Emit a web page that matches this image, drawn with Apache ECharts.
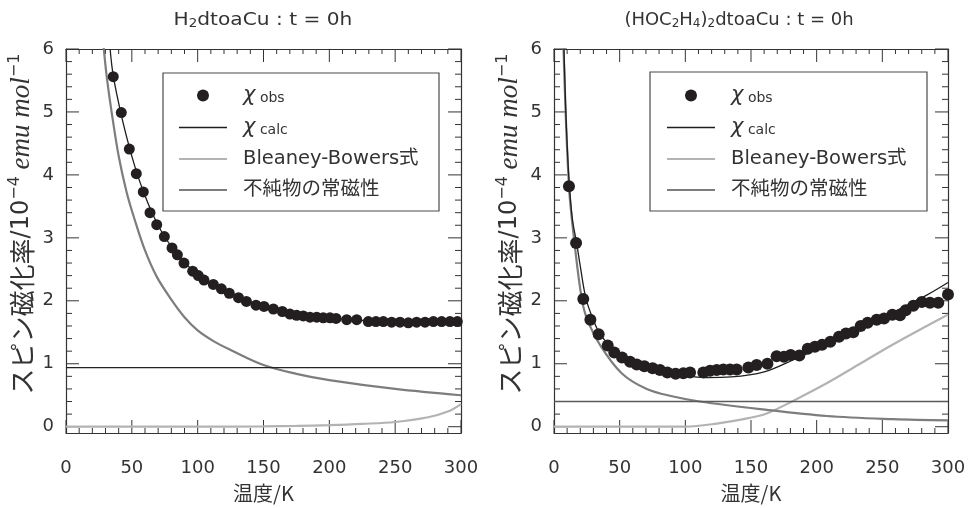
<!DOCTYPE html>
<html>
<head>
<meta charset="utf-8">
<script src="https://cdn.jsdelivr.net/npm/echarts@6/dist/echarts.min.js"></script>
<style>
  html, body { margin: 0; padding: 0; background: #fff; }
  #chart { width: 970px; height: 508px; }
</style>
</head>
<body>
<div id="chart"></div>
<script>
// ---- H2dtoaCu (left panel) ----
const obsT_A = [35.9,42.0,48.1,53.4,58.7,63.8,68.9,74.7,80.5,84.6,89.6,96.2,100.5,104.8,111.9,118,124,131,137,144.3,150.4,157.5,164.3,170.1,175.2,180.2,185.3,190.4,195.4,200.5,205.1,213.2,220.8,229.6,235.4,241.0,247.3,253.7,260.0,266.3,272.7,279.0,285.3,291.6,297.2];
const obsV_A = [5.56,4.99,4.41,4.02,3.73,3.40,3.21,3.02,2.84,2.73,2.60,2.47,2.40,2.33,2.26,2.19,2.12,2.05,1.99,1.93,1.91,1.87,1.83,1.79,1.77,1.76,1.74,1.74,1.73,1.73,1.72,1.70,1.70,1.67,1.67,1.67,1.66,1.66,1.65,1.66,1.66,1.67,1.67,1.67,1.67];
const calcT_A = [33.5,36,42,48,54,60,66,72,80,90,100,112,125,140,160,180,200,225,250,275,300];
const calcV_A = [6.0,5.56,4.95,4.45,4.02,3.67,3.37,3.12,2.86,2.61,2.42,2.25,2.11,1.98,1.86,1.78,1.73,1.69,1.67,1.67,1.68];
const bbT_A = [0,100,150,175,200,225,250,275,290,300];
const bbV_A = [0,0,0.005,0.012,0.025,0.045,0.075,0.15,0.24,0.36];
const impT_A = [28.5,31,35,40,46,52,60,69,80,90,100,112,125,150,175,200,250,300];
const impV_A = [6.05,5.55,4.95,4.3,3.73,3.30,2.80,2.38,2.02,1.74,1.53,1.36,1.22,0.98,0.84,0.74,0.60,0.50];
const constV_A = 0.94;

// ---- (HOC2H4)2dtoaCu (right panel) ----
const obsT_B = [11.4,16.8,22.3,27.7,34.0,40.9,45.9,51.8,57.9,63.0,68.8,75.1,80.7,86.3,92.6,98.5,103.6,113.7,118.8,123.9,128.9,134.0,139.1,148.0,154.3,162.5,169.5,175.1,180.2,186.8,193.2,198.7,204.1,210.4,217.0,222.3,227.9,233.5,238.8,245.7,251.3,257.6,263.5,267.8,273.6,280.0,286.3,292.6,300.0];
const obsV_B = [3.82,2.92,2.03,1.70,1.47,1.29,1.18,1.10,1.03,0.99,0.96,0.93,0.90,0.86,0.84,0.85,0.86,0.86,0.89,0.90,0.91,0.91,0.91,0.94,0.98,1.00,1.12,1.11,1.14,1.13,1.24,1.27,1.30,1.35,1.43,1.48,1.50,1.60,1.65,1.70,1.72,1.78,1.77,1.85,1.92,1.98,1.97,1.97,2.10];
const calcT_B = [7.6,9,10,11.5,14,17.2,20,24.4,29.9,35,42.6,51.5,66.8,83.3,100,116,135,160,182,207.6,233,258.4,283.8,300];
const calcV_B = [6.0,5.0,4.5,3.9,3.3,2.92,2.55,2.03,1.70,1.47,1.29,1.14,0.99,0.88,0.81,0.78,0.79,0.87,1.06,1.31,1.57,1.82,2.09,2.29];
const bbT_B = [0,100,124,149,162,182,207.6,233,258.4,283.8,300];
const bbV_B = [0,0,0.05,0.14,0.21,0.41,0.69,1.00,1.31,1.60,1.78];
const impT_B = [7.2,11.4,16,21,25,35,51.5,70.6,90.8,111,157,207.6,258,300];
const impV_B = [6.05,3.82,2.85,2.05,1.72,1.30,0.85,0.60,0.48,0.40,0.28,0.17,0.12,0.10];
const constV_B = 0.40;

// axis ranges and tick positions
const xMin = 0, xMax = 300, xStep = 50;
const yMin = -0.1, yMax = 6;
const xMajor = [0, 50, 100, 150, 200, 250, 300];
const xMinor = [10,20,30,40,60,70,80,90,110,120,130,140,160,170,180,190,210,220,230,240,260,270,280,290];
const yMajor = [0, 1, 2, 3, 4, 5, 6];
const yMinor = [0.2,0.4,0.6,0.8,1.2,1.4,1.6,1.8,2.2,2.4,2.6,2.8,3.2,3.4,3.6,3.8,4.2,4.4,4.6,4.8,5.2,5.4,5.6,5.8];

const titles = ['H{s|2}dtoaCu : t = 0h', '(HOC{s|2}H{s|4}){s|2}dtoaCu : t = 0h'];
const legendNames = ['χobs', 'χcalc', 'Bleaney-Bowers式', '不純物の常磁性'];
const xName = '温度/K';
const yName = '{sp|}{t|スピン磁化率}{n|/10}{sup|−4}{it| emu mol}{sup|−1}';

const FONT = '"DejaVu Sans", "Noto Sans CJK JP", sans-serif';
const JFONT = '"Noto Sans CJK JP", sans-serif';
const INK = '#333';
const FRAME = '#333';

const zip = (a, b) => a.map((v, i) => [v, b[i]]);

const grids = [
  { left: 66, top: 49, width: 395, height: 394 },
  { left: 554, top: 49, width: 394, height: 394 }
];

const MAJOR = 13, MINOR_X = 5, MINOR_Y = 6;
const frameLine = { color: FRAME, width: 1.2 };

const xAxes = [], yAxes = [];
grids.forEach((g, gi) => {
  const baseX = {
    gridIndex: gi, type: 'value', min: xMin, max: xMax, interval: xStep,
    axisTick: { show: false }, minorTick: { show: false },
    splitLine: { show: false }, minorSplitLine: { show: false }
  };
  xAxes.push(Object.assign({}, baseX, {
    position: 'bottom',
    axisLine: { show: true, onZero: false, lineStyle: frameLine },
    axisLabel: { show: true, fontFamily: FONT, fontSize: 18, color: INK, margin: 26 },
    name: xName, nameLocation: 'middle', nameGap: 50,
    nameTextStyle: { fontFamily: JFONT, fontSize: 20, color: INK }
  }));
  xAxes.push(Object.assign({}, baseX, {
    position: 'top',
    axisLine: { show: true, onZero: false, lineStyle: frameLine },
    axisLabel: { show: false }
  }));

  const baseY = { gridIndex: gi, type: 'value', min: yMin, max: yMax, splitLine: { show: false }, axisTick: { show: false } };
  yAxes.push(Object.assign({}, baseY, {
    position: 'left',
    axisLine: { show: true, onZero: false, lineStyle: frameLine },
    axisLabel: { show: true, customValues: yMajor, fontFamily: FONT, fontSize: 18, color: INK, margin: 12 },
    name: yName, nameLocation: 'middle', nameGap: 29,
    nameTextStyle: {
      color: INK,
      rich: {
        sp: { width: 34 },
        t: { fontFamily: JFONT, fontSize: 26, color: INK, lineHeight: 30 },
        n: { fontFamily: FONT, fontSize: 24, color: INK, lineHeight: 30 },
        sup: { fontFamily: FONT, fontSize: 16, color: INK, verticalAlign: 'top', lineHeight: 30 },
        it: { fontFamily: '"Liberation Serif", serif', fontStyle: 'italic', fontSize: 27, color: INK, lineHeight: 30 }
      }
    }
  }));
  yAxes.push(Object.assign({}, baseY, {
    position: 'right',
    axisLine: { show: true, onZero: false, lineStyle: frameLine },
    axisLabel: { show: false }
  }));
});

// inward tick marks on all four sides, placed through the axis scales
const tickData = [].concat(
  xMajor.map(v => [0, v, 1]), xMinor.map(v => [0, v, 0]),
  yMajor.map(v => [1, v, 1]), yMinor.map(v => [1, v, 0])
);
function tickSeries(gi) {
  return {
    type: 'custom', xAxisIndex: gi * 2, yAxisIndex: gi * 2, data: tickData,
    clip: false, silent: true, z: 1, animation: false,
    renderItem(params, api) {
      const kind = api.value(0), v = api.value(1), major = api.value(2);
      const style = { stroke: FRAME, lineWidth: 1 };
      if (kind === 0) {
        const len = major ? MAJOR : MINOR_X;
        const b = api.coord([v, yMin]), t = api.coord([v, yMax]);
        return { type: 'group', children: [
          { type: 'line', shape: { x1: b[0], y1: b[1], x2: b[0], y2: b[1] - len }, style },
          { type: 'line', shape: { x1: t[0], y1: t[1], x2: t[0], y2: t[1] + len }, style }
        ] };
      }
      const len = major ? MAJOR : MINOR_Y;
      const l = api.coord([xMin, v]), r = api.coord([xMax, v]);
      return { type: 'group', children: [
        { type: 'line', shape: { x1: l[0], y1: l[1], x2: l[0] + len, y2: l[1] }, style },
        { type: 'line', shape: { x1: r[0], y1: r[1], x2: r[0] - len, y2: r[1] }, style }
      ] };
    }
  };
}

const lineColors = { calc: '#1e1e1e', bb: '#b3b3b3', imp: '#7d7d7d' };

function panelSeries(gi, d) {
  const xi = gi * 2, yi = gi * 2;
  const line = (name, data, color, width, z) => ({
    name, type: 'line', xAxisIndex: xi, yAxisIndex: yi, data,
    symbol: 'none', smooth: 0.35, clip: true, z,
    lineStyle: { color, width }, itemStyle: { color },
    emphasis: { disabled: true }, animation: false
  });
  return [
    tickSeries(gi),
    line(legendNames[2], zip(d.bbT, d.bbV), lineColors.bb, 2.2, 2),
    line(legendNames[3], zip(d.impT, d.impV), lineColors.imp, 2.2, 3),
    line('const', [[xMin, d.c], [xMax, d.c]], d.cColor, d.cWidth, 3),
    line(legendNames[1], zip(d.calcT, d.calcV), lineColors.calc, 1.3, 4),
    {
      name: legendNames[0], type: 'scatter', xAxisIndex: xi, yAxisIndex: yi,
      data: zip(d.obsT, d.obsV), symbol: 'circle', symbolSize: d.size, z: 5,
      itemStyle: { color: '#231f20', opacity: 1 }, emphasis: { disabled: true }, animation: false
    }
  ];
}

const series = [].concat(
  panelSeries(0, { obsT: obsT_A, obsV: obsV_A, calcT: calcT_A, calcV: calcV_A, bbT: bbT_A, bbV: bbV_A,
                   impT: impT_A, impV: impV_A, c: constV_A, cColor: '#222', cWidth: 1.2, size: 11 }),
  panelSeries(1, { obsT: obsT_B, obsV: obsV_B, calcT: calcT_B, calcV: calcV_B, bbT: bbT_B, bbV: bbV_B,
                   impT: impT_B, impV: impV_B, c: constV_B, cColor: '#5a5a5a', cWidth: 1.5, size: 12 })
);

const legendRich = {
  g: { width: 11 },
  chi: { fontFamily: '"DejaVu Sans", sans-serif', fontStyle: 'italic', fontSize: 21, color: INK, lineHeight: 20 },
  sub: { fontFamily: FONT, fontSize: 14, color: INK, verticalAlign: 'bottom', lineHeight: 20 },
  t: { fontFamily: FONT, fontSize: 19.5, color: INK, lineHeight: 20 }
};
function legendFormat(name) {
  if (name === 'χobs') return '{g|}{chi|χ}{sub| obs}';
  if (name === 'χcalc') return '{g|}{chi|χ}{sub| calc}';
  return '{g|}{t|' + name + '}';
}
const legendItems = [
  { name: legendNames[0], icon: 'circle' },
  { name: legendNames[1], icon: 'path://M0,0H48V1.3H0Z' },
  { name: legendNames[2], icon: 'path://M0,0H48V2.2H0Z' },
  { name: legendNames[3], icon: 'path://M0,0H48V2.2H0Z' }
];
const legendAt = [{ left: 179, top: 85 }, { left: 667, top: 85 }];
const legends = legendAt.map(p => ({
  data: legendItems, orient: 'vertical', left: p.left, top: p.top,
  itemWidth: 48, itemHeight: 12, itemGap: 11, padding: 0, selectedMode: false,
  symbolKeepAspect: true,
  itemStyle: { borderWidth: 0 },
  formatter: legendFormat,
  textStyle: { fontFamily: FONT, fontSize: 19.5, color: INK, lineHeight: 20, rich: legendRich }
}));

const boxes = [
  { x: 163, y: 73, w: 276, h: 138 },
  { x: 650, y: 72, w: 277, h: 139 }
];
const titleAt = [{ x: 263, sx: 1.12 }, { x: 739, sx: 1.0 }];

const graphic = [];
boxes.forEach(b => graphic.push({
  type: 'rect', z: 1, silent: true,
  shape: { x: b.x, y: b.y, width: b.w, height: b.h },
  style: { fill: 'rgba(255,255,255,0)', stroke: '#4a4a4a', lineWidth: 1.2 }
}));
titleAt.forEach((p, i) => graphic.push({
  type: 'text', x: p.x, y: 20, scaleX: p.sx, silent: true,
  style: {
    text: titles[i], align: 'center', verticalAlign: 'middle',
    fontFamily: FONT, fontSize: 18, fill: INK,
    rich: {
      s: { fontFamily: FONT, fontSize: 12, fill: INK, verticalAlign: 'bottom', padding: [7, 0, 0, 0] }
    }
  }
}));

const chart = echarts.init(document.getElementById('chart'), null, { renderer: 'canvas' });
chart.setOption({
  animation: false,
  backgroundColor: '#fff',
  grid: grids,
  xAxis: xAxes,
  yAxis: yAxes,
  legend: legends,
  series,
  graphic
});
</script>
</body>
</html>
